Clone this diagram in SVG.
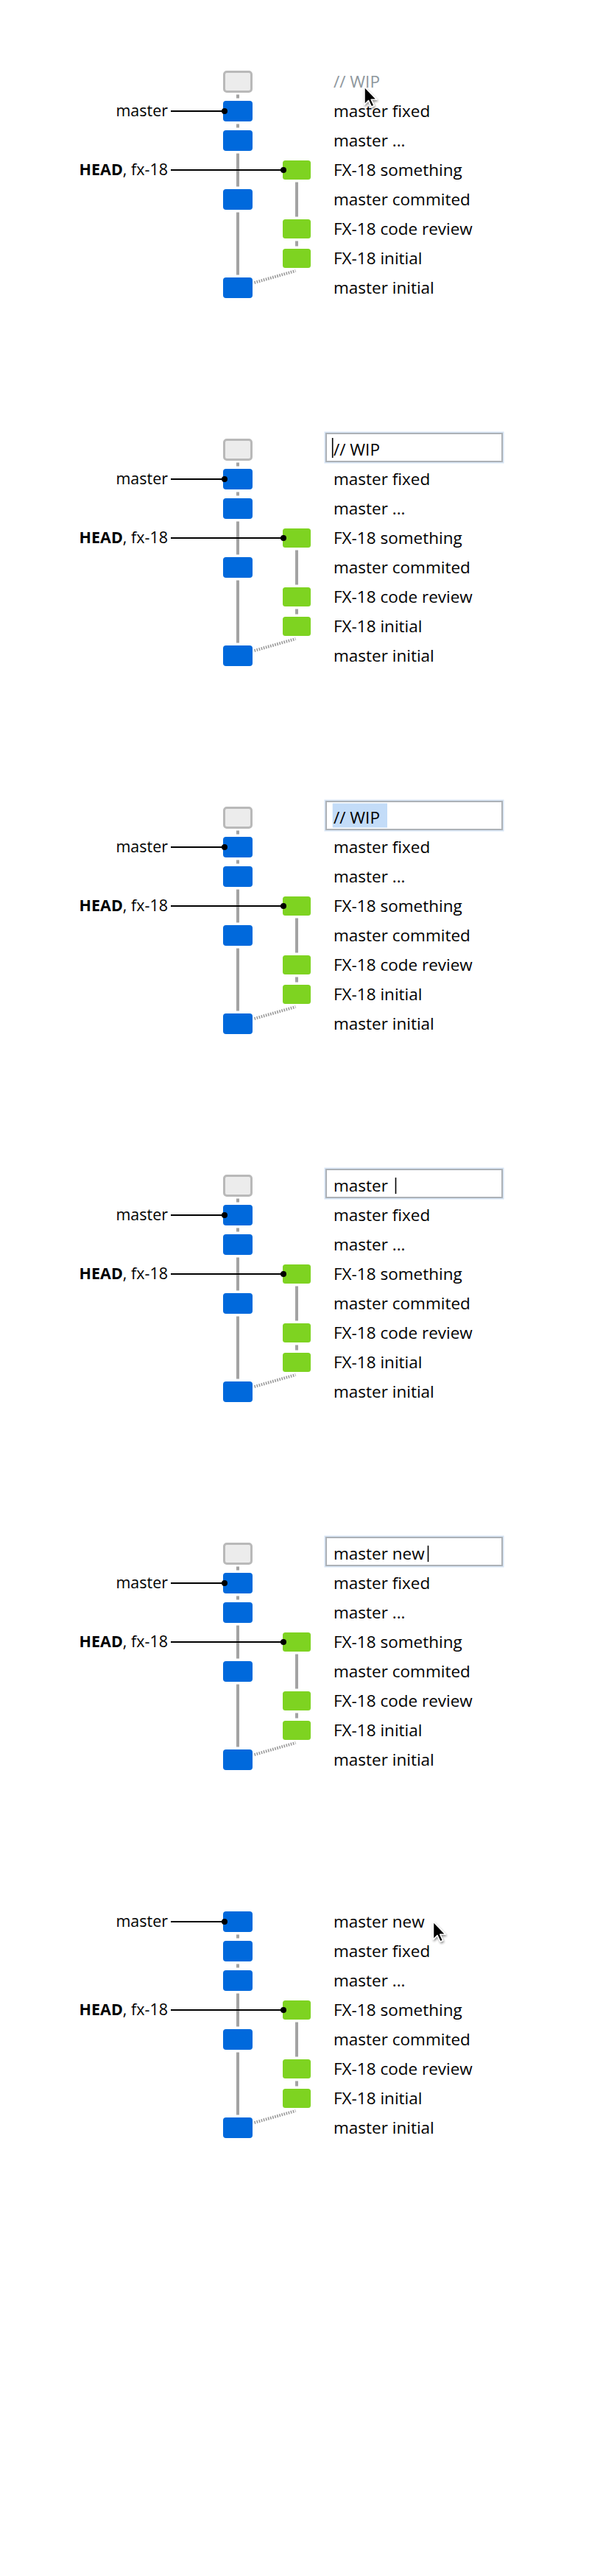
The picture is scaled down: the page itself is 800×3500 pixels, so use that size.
<svg xmlns="http://www.w3.org/2000/svg" width="800" height="3500" viewBox="0 0 800 3500">
<style>
.blue{fill:#0069dc}
.green{fill:#7ed321}
.wip{fill:#ececec;stroke:#b9b9b9;stroke-width:3}
.edge{stroke:#a3a3a3;stroke-width:4;fill:none}
.merge{stroke:#9a9a9a;stroke-width:4;stroke-dasharray:1.6 1.6;fill:none}
.ref{stroke:#000;stroke-width:2}
.dot{fill:#000}
.t{font-family:"Open Sans","Noto Sans",sans-serif;font-size:22.5px;fill:#000}
.lbl{text-anchor:end;font-size:21.5px}
.ph{fill:#8e979d}
.in{fill:#fff;stroke:#adb2b7;stroke-width:2}
.glow{fill:none;stroke:#d6e4f4;stroke-width:5}
.caret{stroke:#000;stroke-width:1.6}
.sel{fill:#c3dcf8}
</style>
<defs>
<filter id="sh" x="-50%" y="-50%" width="200%" height="200%">
<feGaussianBlur in="SourceAlpha" stdDeviation="1.6"/>
<feOffset dx="1" dy="2" result="b"/>
<feComponentTransfer><feFuncA type="linear" slope="0.45"/></feComponentTransfer>
<feMerge><feMergeNode/><feMergeNode in="SourceGraphic"/></feMerge>
</filter>
<path id="arrow" d="M0,0 L0,24 L5.5,18.5 L9.5,27 L13,25.5 L9.2,17.2 L16.5,17.2 Z" fill="#000" stroke="#fff" stroke-width="1.5" stroke-linejoin="round"/>
</defs>
<rect width="800" height="3500" fill="#fff"/>

<!-- ================= PANEL 1 ================= -->
<g id="p1">
<g id="p1-edges">
<line class="edge" x1="323" y1="128.5" x2="323" y2="133.5"/>
<line class="edge" x1="323" y1="168.5" x2="323" y2="173.5"/>
<line class="edge" x1="323" y1="208.5" x2="323" y2="253.5"/>
<line class="edge" x1="323" y1="288.5" x2="323" y2="373.5"/>
<line class="edge" x1="403" y1="247.5" x2="403" y2="294.5"/>
<line class="edge" x1="403" y1="327.5" x2="403" y2="334.5"/>
<line class="merge" x1="345.5" y1="384" x2="401.5" y2="368"/>
<line class="ref" x1="232" y1="151" x2="305" y2="151"/>
<line class="ref" x1="232" y1="231" x2="385" y2="231"/>
</g>
<g id="p1-wip"><rect class="wip" x="304.5" y="97.5" width="37" height="27" rx="3.5"/><text class="t ph" x="453" y="119">// WIP</text></g>
<g id="p1-n1"><rect class="blue" x="303" y="137" width="40" height="28" rx="4"/><text class="t" x="453" y="158.5">master fixed</text></g>
<g id="p1-n2"><rect class="blue" x="303" y="177" width="40" height="28" rx="4"/><text class="t" x="453" y="198.5">master ...</text></g>
<g id="p1-n3"><rect class="green" x="384" y="218" width="38" height="26" rx="3.5"/><text class="t" x="453" y="238.5">FX-18 something</text></g>
<g id="p1-n4"><rect class="blue" x="303" y="257" width="40" height="28" rx="4"/><text class="t" x="453" y="278.5">master commited</text></g>
<g id="p1-n5"><rect class="green" x="384" y="298" width="38" height="26" rx="3.5"/><text class="t" x="453" y="318.5">FX-18 code review</text></g>
<g id="p1-n6"><rect class="green" x="384" y="338" width="38" height="26" rx="3.5"/><text class="t" x="453" y="358.5">FX-18 initial</text></g>
<g id="p1-n7"><rect class="blue" x="303" y="377" width="40" height="28" rx="4"/><text class="t" x="453" y="398.5">master initial</text></g>
<g id="p1-master"><text class="t lbl" x="228" y="158">master</text><circle class="dot" cx="305" cy="151" r="4"/></g>
<g id="p1-head"><text class="t lbl" x="228" y="238"><tspan font-weight="bold">HEAD</tspan>, fx-18</text><circle class="dot" cx="385" cy="231" r="4"/></g>
<use href="#arrow" x="495" y="118" filter="url(#sh)"/>
</g>

<!-- ================= PANEL 2 ================= -->
<g id="p2">
<g id="p2-edges">
<line class="edge" x1="323" y1="628.5" x2="323" y2="633.5"/>
<line class="edge" x1="323" y1="668.5" x2="323" y2="673.5"/>
<line class="edge" x1="323" y1="708.5" x2="323" y2="753.5"/>
<line class="edge" x1="323" y1="788.5" x2="323" y2="873.5"/>
<line class="edge" x1="403" y1="747.5" x2="403" y2="794.5"/>
<line class="edge" x1="403" y1="827.5" x2="403" y2="834.5"/>
<line class="merge" x1="345.5" y1="884" x2="401.5" y2="868"/>
<line class="ref" x1="232" y1="651" x2="305" y2="651"/>
<line class="ref" x1="232" y1="731" x2="385" y2="731"/>
</g>
<g id="p2-wip"><rect class="wip" x="304.5" y="597.5" width="37" height="27" rx="3.5"/>
<rect class="glow" x="443" y="589" width="239" height="38"/><rect class="in" x="443" y="589" width="239" height="38"/>
<text class="t" x="453" y="619">// WIP</text><line class="caret" x1="451.7" y1="595" x2="451.7" y2="622"/></g>
<g id="p2-n1"><rect class="blue" x="303" y="637" width="40" height="28" rx="4"/><text class="t" x="453" y="658.5">master fixed</text></g>
<g id="p2-n2"><rect class="blue" x="303" y="677" width="40" height="28" rx="4"/><text class="t" x="453" y="698.5">master ...</text></g>
<g id="p2-n3"><rect class="green" x="384" y="718" width="38" height="26" rx="3.5"/><text class="t" x="453" y="738.5">FX-18 something</text></g>
<g id="p2-n4"><rect class="blue" x="303" y="757" width="40" height="28" rx="4"/><text class="t" x="453" y="778.5">master commited</text></g>
<g id="p2-n5"><rect class="green" x="384" y="798" width="38" height="26" rx="3.5"/><text class="t" x="453" y="818.5">FX-18 code review</text></g>
<g id="p2-n6"><rect class="green" x="384" y="838" width="38" height="26" rx="3.5"/><text class="t" x="453" y="858.5">FX-18 initial</text></g>
<g id="p2-n7"><rect class="blue" x="303" y="877" width="40" height="28" rx="4"/><text class="t" x="453" y="898.5">master initial</text></g>
<g id="p2-master"><text class="t lbl" x="228" y="658">master</text><circle class="dot" cx="305" cy="651" r="4"/></g>
<g id="p2-head"><text class="t lbl" x="228" y="738"><tspan font-weight="bold">HEAD</tspan>, fx-18</text><circle class="dot" cx="385" cy="731" r="4"/></g>
</g>

<!-- ================= PANEL 3 ================= -->
<g id="p3">
<g id="p3-edges">
<line class="edge" x1="323" y1="1128.5" x2="323" y2="1133.5"/>
<line class="edge" x1="323" y1="1168.5" x2="323" y2="1173.5"/>
<line class="edge" x1="323" y1="1208.5" x2="323" y2="1253.5"/>
<line class="edge" x1="323" y1="1288.5" x2="323" y2="1373.5"/>
<line class="edge" x1="403" y1="1247.5" x2="403" y2="1294.5"/>
<line class="edge" x1="403" y1="1327.5" x2="403" y2="1334.5"/>
<line class="merge" x1="345.5" y1="1384" x2="401.5" y2="1368"/>
<line class="ref" x1="232" y1="1151" x2="305" y2="1151"/>
<line class="ref" x1="232" y1="1231" x2="385" y2="1231"/>
</g>
<g id="p3-wip"><rect class="wip" x="304.5" y="1097.5" width="37" height="27" rx="3.5"/>
<rect class="glow" x="443" y="1089" width="239" height="38"/><rect class="in" x="443" y="1089" width="239" height="38"/>
<rect class="sel" x="451.7" y="1091.5" width="74.3" height="33"/>
<text class="t" x="453" y="1119">// WIP</text></g>
<g id="p3-n1"><rect class="blue" x="303" y="1137" width="40" height="28" rx="4"/><text class="t" x="453" y="1158.5">master fixed</text></g>
<g id="p3-n2"><rect class="blue" x="303" y="1177" width="40" height="28" rx="4"/><text class="t" x="453" y="1198.5">master ...</text></g>
<g id="p3-n3"><rect class="green" x="384" y="1218" width="38" height="26" rx="3.5"/><text class="t" x="453" y="1238.5">FX-18 something</text></g>
<g id="p3-n4"><rect class="blue" x="303" y="1257" width="40" height="28" rx="4"/><text class="t" x="453" y="1278.5">master commited</text></g>
<g id="p3-n5"><rect class="green" x="384" y="1298" width="38" height="26" rx="3.5"/><text class="t" x="453" y="1318.5">FX-18 code review</text></g>
<g id="p3-n6"><rect class="green" x="384" y="1338" width="38" height="26" rx="3.5"/><text class="t" x="453" y="1358.5">FX-18 initial</text></g>
<g id="p3-n7"><rect class="blue" x="303" y="1377" width="40" height="28" rx="4"/><text class="t" x="453" y="1398.5">master initial</text></g>
<g id="p3-master"><text class="t lbl" x="228" y="1158">master</text><circle class="dot" cx="305" cy="1151" r="4"/></g>
<g id="p3-head"><text class="t lbl" x="228" y="1238"><tspan font-weight="bold">HEAD</tspan>, fx-18</text><circle class="dot" cx="385" cy="1231" r="4"/></g>
</g>

<!-- ================= PANEL 4 ================= -->
<g id="p4">
<g id="p4-edges">
<line class="edge" x1="323" y1="1628.5" x2="323" y2="1633.5"/>
<line class="edge" x1="323" y1="1668.5" x2="323" y2="1673.5"/>
<line class="edge" x1="323" y1="1708.5" x2="323" y2="1753.5"/>
<line class="edge" x1="323" y1="1788.5" x2="323" y2="1873.5"/>
<line class="edge" x1="403" y1="1747.5" x2="403" y2="1794.5"/>
<line class="edge" x1="403" y1="1827.5" x2="403" y2="1834.5"/>
<line class="merge" x1="345.5" y1="1884" x2="401.5" y2="1868"/>
<line class="ref" x1="232" y1="1651" x2="305" y2="1651"/>
<line class="ref" x1="232" y1="1731" x2="385" y2="1731"/>
</g>
<g id="p4-wip"><rect class="wip" x="304.5" y="1597.5" width="37" height="27" rx="3.5"/>
<rect class="glow" x="443" y="1589" width="239" height="38"/><rect class="in" x="443" y="1589" width="239" height="38"/>
<text class="t" x="453" y="1619">master </text><line class="caret" x1="537.5" y1="1600" x2="537.5" y2="1622"/></g>
<g id="p4-n1"><rect class="blue" x="303" y="1637" width="40" height="28" rx="4"/><text class="t" x="453" y="1658.5">master fixed</text></g>
<g id="p4-n2"><rect class="blue" x="303" y="1677" width="40" height="28" rx="4"/><text class="t" x="453" y="1698.5">master ...</text></g>
<g id="p4-n3"><rect class="green" x="384" y="1718" width="38" height="26" rx="3.5"/><text class="t" x="453" y="1738.5">FX-18 something</text></g>
<g id="p4-n4"><rect class="blue" x="303" y="1757" width="40" height="28" rx="4"/><text class="t" x="453" y="1778.5">master commited</text></g>
<g id="p4-n5"><rect class="green" x="384" y="1798" width="38" height="26" rx="3.5"/><text class="t" x="453" y="1818.5">FX-18 code review</text></g>
<g id="p4-n6"><rect class="green" x="384" y="1838" width="38" height="26" rx="3.5"/><text class="t" x="453" y="1858.5">FX-18 initial</text></g>
<g id="p4-n7"><rect class="blue" x="303" y="1877" width="40" height="28" rx="4"/><text class="t" x="453" y="1898.5">master initial</text></g>
<g id="p4-master"><text class="t lbl" x="228" y="1658">master</text><circle class="dot" cx="305" cy="1651" r="4"/></g>
<g id="p4-head"><text class="t lbl" x="228" y="1738"><tspan font-weight="bold">HEAD</tspan>, fx-18</text><circle class="dot" cx="385" cy="1731" r="4"/></g>
</g>

<!-- ================= PANEL 5 ================= -->
<g id="p5">
<g id="p5-edges">
<line class="edge" x1="323" y1="2128.5" x2="323" y2="2133.5"/>
<line class="edge" x1="323" y1="2168.5" x2="323" y2="2173.5"/>
<line class="edge" x1="323" y1="2208.5" x2="323" y2="2253.5"/>
<line class="edge" x1="323" y1="2288.5" x2="323" y2="2373.5"/>
<line class="edge" x1="403" y1="2247.5" x2="403" y2="2294.5"/>
<line class="edge" x1="403" y1="2327.5" x2="403" y2="2334.5"/>
<line class="merge" x1="345.5" y1="2384" x2="401.5" y2="2368"/>
<line class="ref" x1="232" y1="2151" x2="305" y2="2151"/>
<line class="ref" x1="232" y1="2231" x2="385" y2="2231"/>
</g>
<g id="p5-wip"><rect class="wip" x="304.5" y="2097.5" width="37" height="27" rx="3.5"/>
<rect class="glow" x="443" y="2089" width="239" height="38"/><rect class="in" x="443" y="2089" width="239" height="38"/>
<text class="t" x="453" y="2119">master new</text><line class="caret" x1="581.5" y1="2100" x2="581.5" y2="2122"/></g>
<g id="p5-n1"><rect class="blue" x="303" y="2137" width="40" height="28" rx="4"/><text class="t" x="453" y="2158.5">master fixed</text></g>
<g id="p5-n2"><rect class="blue" x="303" y="2177" width="40" height="28" rx="4"/><text class="t" x="453" y="2198.5">master ...</text></g>
<g id="p5-n3"><rect class="green" x="384" y="2218" width="38" height="26" rx="3.5"/><text class="t" x="453" y="2238.5">FX-18 something</text></g>
<g id="p5-n4"><rect class="blue" x="303" y="2257" width="40" height="28" rx="4"/><text class="t" x="453" y="2278.5">master commited</text></g>
<g id="p5-n5"><rect class="green" x="384" y="2298" width="38" height="26" rx="3.5"/><text class="t" x="453" y="2318.5">FX-18 code review</text></g>
<g id="p5-n6"><rect class="green" x="384" y="2338" width="38" height="26" rx="3.5"/><text class="t" x="453" y="2358.5">FX-18 initial</text></g>
<g id="p5-n7"><rect class="blue" x="303" y="2377" width="40" height="28" rx="4"/><text class="t" x="453" y="2398.5">master initial</text></g>
<g id="p5-master"><text class="t lbl" x="228" y="2158">master</text><circle class="dot" cx="305" cy="2151" r="4"/></g>
<g id="p5-head"><text class="t lbl" x="228" y="2238"><tspan font-weight="bold">HEAD</tspan>, fx-18</text><circle class="dot" cx="385" cy="2231" r="4"/></g>
</g>

<!-- ================= PANEL 6 ================= -->
<g id="p6">
<g id="p6-edges">
<line class="edge" x1="323" y1="2628.5" x2="323" y2="2633.5"/>
<line class="edge" x1="323" y1="2668.5" x2="323" y2="2673.5"/>
<line class="edge" x1="323" y1="2708.5" x2="323" y2="2753.5"/>
<line class="edge" x1="323" y1="2788.5" x2="323" y2="2873.5"/>
<line class="edge" x1="403" y1="2747.5" x2="403" y2="2794.5"/>
<line class="edge" x1="403" y1="2827.5" x2="403" y2="2834.5"/>
<line class="merge" x1="345.5" y1="2884" x2="401.5" y2="2868"/>
<line class="ref" x1="232" y1="2611" x2="305" y2="2611"/>
<line class="ref" x1="232" y1="2731" x2="385" y2="2731"/>
</g>
<g id="p6-n0"><rect class="blue" x="303" y="2597" width="40" height="28" rx="4"/><text class="t" x="453" y="2618.5">master new</text></g>
<g id="p6-n1"><rect class="blue" x="303" y="2637" width="40" height="28" rx="4"/><text class="t" x="453" y="2658.5">master fixed</text></g>
<g id="p6-n2"><rect class="blue" x="303" y="2677" width="40" height="28" rx="4"/><text class="t" x="453" y="2698.5">master ...</text></g>
<g id="p6-n3"><rect class="green" x="384" y="2718" width="38" height="26" rx="3.5"/><text class="t" x="453" y="2738.5">FX-18 something</text></g>
<g id="p6-n4"><rect class="blue" x="303" y="2757" width="40" height="28" rx="4"/><text class="t" x="453" y="2778.5">master commited</text></g>
<g id="p6-n5"><rect class="green" x="384" y="2798" width="38" height="26" rx="3.5"/><text class="t" x="453" y="2818.5">FX-18 code review</text></g>
<g id="p6-n6"><rect class="green" x="384" y="2838" width="38" height="26" rx="3.5"/><text class="t" x="453" y="2858.5">FX-18 initial</text></g>
<g id="p6-n7"><rect class="blue" x="303" y="2877" width="40" height="28" rx="4"/><text class="t" x="453" y="2898.5">master initial</text></g>
<g id="p6-master"><text class="t lbl" x="228" y="2618">master</text><circle class="dot" cx="305" cy="2611" r="4"/></g>
<g id="p6-head"><text class="t lbl" x="228" y="2738"><tspan font-weight="bold">HEAD</tspan>, fx-18</text><circle class="dot" cx="385" cy="2731" r="4"/></g>
<use href="#arrow" x="588.5" y="2611" filter="url(#sh)"/>
</g>
</svg>
